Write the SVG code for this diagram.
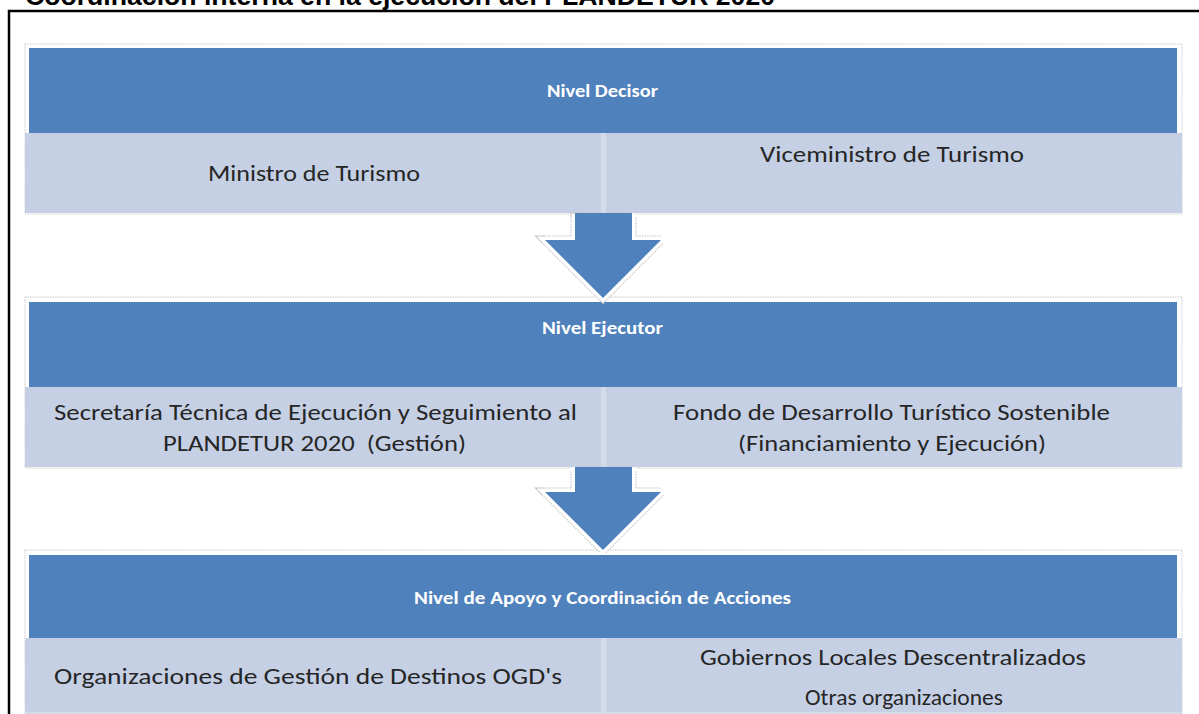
<svg xmlns="http://www.w3.org/2000/svg" width="1199" height="714" viewBox="0 0 1199 714">
<style>
.cont{fill:#ffffff;stroke:#c9c9c9;stroke-width:1;stroke-dasharray:1.5 1}
.hdr{fill:#4f81bd}
.row{fill:#d4dcec}
.cell{fill:#c5d0e5}
.ht{font-family:Carlito,Lato,"Open Sans",sans-serif;font-weight:bold;font-size:17px;fill:#ffffff}
.bt{font-family:Carlito,Lato,"Open Sans",sans-serif;font-size:22px;fill:#262626}
.title{font-family:"Liberation Sans",Arial,sans-serif;font-weight:bold;font-size:26.5px;fill:#000000}
.arrO{fill:none;stroke:#c4c4c4;stroke-width:9;stroke-dasharray:1.5 1;stroke-linejoin:miter}
.arrW{fill:none;stroke:#ffffff;stroke-width:7;stroke-linejoin:miter}
.arrB{fill:#4f81bd}
</style>
<rect x="0" y="0" width="1199" height="714" fill="#ffffff"/>
<text class="title" x="25" y="5" textLength="750" lengthAdjust="spacingAndGlyphs">Coordinación interna en la ejecución del PLANDETUR 2020</text>
<path d="M9,714 V11 H1199" fill="none" stroke="#000000" stroke-width="2.5"/>

<g id="nivel-decisor">
<rect class="cont" x="25" y="44" width="1157" height="170"/>
<rect class="hdr" x="29" y="48" width="1148" height="85"/>
<rect class="row" x="25" y="133" width="1157" height="80"/>
<rect class="cell" x="25" y="133" width="576" height="80"/>
<rect class="cell" x="606" y="133" width="576" height="80"/>
<text class="ht" x="547" y="97" textLength="111" lengthAdjust="spacingAndGlyphs">Nivel Decisor</text>
<text class="bt" x="208" y="181" textLength="212" lengthAdjust="spacingAndGlyphs">Ministro de Turismo</text>
<text class="bt" x="760" y="162" textLength="264" lengthAdjust="spacingAndGlyphs">Viceministro de Turismo</text>
</g>

<g id="nivel-ejecutor">
<rect class="cont" x="25" y="297" width="1157" height="171"/>
<rect class="hdr" x="29" y="302" width="1148" height="85"/>
<rect class="row" x="25" y="387" width="1157" height="80"/>
<rect class="cell" x="25" y="387" width="576" height="80"/>
<rect class="cell" x="606" y="387" width="576" height="80"/>
<text class="ht" x="542" y="334" textLength="121" lengthAdjust="spacingAndGlyphs">Nivel Ejecutor</text>
<text class="bt" x="54" y="420" textLength="523" lengthAdjust="spacingAndGlyphs">Secretaría Técnica de Ejecución y Seguimiento al</text>
<text class="bt" x="163" y="451" textLength="303" lengthAdjust="spacingAndGlyphs" xml:space="preserve">PLANDETUR 2020  (Gestión)</text>
<text class="bt" x="673" y="420" textLength="437" lengthAdjust="spacingAndGlyphs">Fondo de Desarrollo Turístico Sostenible</text>
<text class="bt" x="738" y="451" textLength="308" lengthAdjust="spacingAndGlyphs">(Financiamiento y Ejecución)</text>
</g>

<g id="nivel-apoyo">
<rect class="cont" x="25" y="550" width="1157" height="170"/>
<rect class="hdr" x="29" y="555" width="1148" height="83"/>
<rect class="row" x="25" y="638" width="1157" height="76"/>
<rect class="cell" x="25" y="638" width="576" height="74"/>
<rect class="cell" x="606" y="638" width="576" height="74"/>
<text class="ht" x="414" y="604" textLength="377" lengthAdjust="spacingAndGlyphs">Nivel de Apoyo y Coordinación de Acciones</text>
<text class="bt" x="54" y="684" textLength="508" lengthAdjust="spacingAndGlyphs">Organizaciones de Gestión de Destinos OGD's</text>
<text class="bt" x="700" y="665" textLength="386" lengthAdjust="spacingAndGlyphs">Gobiernos Locales Descentralizados</text>
<text class="bt" x="805" y="705" textLength="198" lengthAdjust="spacingAndGlyphs">Otras organizaciones</text>
</g>

<g id="connectors">
<g id="arrow-1">
<polygon class="arrO" points="575,217 632,217 632,240 661,240 603,298 545,240 575,240"/>
<polygon class="arrW" points="575,217 632,217 632,240 661,240 603,298 545,240 575,240"/>
<polygon class="arrB" points="575,213 632,213 632,240 661,240 603,298 545,240 575,240"/>
</g>
<g id="arrow-2">
<polygon class="arrO" points="575,471 632,471 632,492 661,492 603,550 545,492 575,492"/>
<polygon class="arrW" points="575,471 632,471 632,492 661,492 603,550 545,492 575,492"/>
<polygon class="arrB" points="575,467 632,467 632,492 661,492 603,550 545,492 575,492"/>
</g>
</g>
</svg>
